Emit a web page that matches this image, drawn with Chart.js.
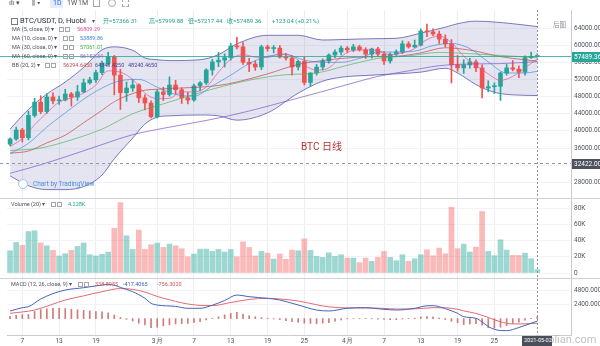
<!DOCTYPE html>
<html>
<head>
<meta charset="utf-8">
<title>BTC/USDT D Huobi</title>
<script src="https://cdn.jsdelivr.net/npm/chart.js@4.4.1/dist/chart.umd.min.js"></script>
<style>
  html, body { margin: 0; padding: 0; background: #fff; }
  #wrap { position: relative; width: 600px; height: 346px; overflow: hidden; background: #fff;
          font-family: Roboto, "Noto Sans CJK SC", sans-serif; }
  #wrap canvas { position: absolute; left: 0; }
  .t { position: absolute; white-space: nowrap; line-height: 1; color: #50535e; }
  .ic { display: inline-block; width: 3px; height: 3px; border: 1px solid #a3a6af; margin-right: 1px; }
  .sep { position: absolute; left: 0; width: 600px; height: 1px; background: #cfd1d7; }
</style>
</head>
<body>
<div id="wrap">
  <canvas id="main" width="600" height="188" style="top:10px"></canvas>
  <canvas id="vol" width="600" height="79" style="top:199px"></canvas>
  <canvas id="macd" width="600" height="67" style="top:279px"></canvas>
  <div class="sep" style="top:198px"></div>
  <div class="sep" style="top:278px"></div>

  <!-- toolbar (cut at the top edge) -->
  <div class="t" style="left:9px;top:0px;font-size:7px">ılı ▾</div>
  <div class="t" style="left:32px;top:0px;font-size:7px">⫼ ▾</div>
  <div class="t" style="left:50px;top:-1px;width:13px;height:9px;background:#e3edfb"></div>
  <div class="t" style="left:53px;top:0px;font-size:7px;color:#2962ff">1D</div>
  <div class="t" style="left:67px;top:0px;font-size:7px">1W</div>
  <div class="t" style="left:78px;top:0px;font-size:7px">1M</div>
  <div class="t" style="left:93px;top:-1px;width:5px;height:6px;border:1px solid #a3a6af"></div>
  <div class="t" style="left:108px;top:-1px;width:6px;height:6px;border:1px solid #a3a6af;border-radius:4px"></div>
  <div class="t" style="left:122px;top:-1px;width:5px;height:6px;border:1px dashed #a3a6af"></div>

  <!-- main pane legend -->
  <div class="t" style="left:11px;top:18px;width:5px;height:5px;border:1px solid #787b86"></div>
  <div class="t" style="left:20px;top:17px;font-size:7.5px;color:#2a2e39">BTC/USDT, D, Huobi</div>
  <div class="t" style="left:92px;top:18px;font-size:6px">▾</div>
  <div class="t" style="left:103px;top:18px;font-size:6px;color:#22a08f">开=57366.31</div>
  <div class="t" style="left:149px;top:18px;font-size:6px;color:#22a08f">高=57999.88</div>
  <div class="t" style="left:188px;top:18px;font-size:6px;color:#22a08f">低=57217.44</div>
  <div class="t" style="left:227px;top:18px;font-size:6px;color:#22a08f">收=57489.36</div>
  <div class="t" style="left:272px;top:18px;font-size:6px;color:#22a08f">+123.04 (+0.21%)</div>

  <div class="t" style="left:12px;top:27px;font-size:5.5px">MA (5, close, 0) ▾</div>
  <div class="t" style="left:59px;top:27px;font-size:5.5px"><span class="ic"></span><span class="ic"></span></div>
  <div class="t" style="left:77px;top:27px;font-size:5.5px;color:#e0569c">56809.29</div>

  <div class="t" style="left:12px;top:36px;font-size:5.5px">MA (10, close, 0) ▾</div>
  <div class="t" style="left:63px;top:36px;font-size:5.5px"><span class="ic"></span><span class="ic"></span></div>
  <div class="t" style="left:80px;top:36px;font-size:5.5px;color:#3d85d8">53889.86</div>

  <div class="t" style="left:12px;top:45px;font-size:5.5px">MA (30, close, 0) ▾</div>
  <div class="t" style="left:63px;top:45px;font-size:5.5px"><span class="ic"></span><span class="ic"></span></div>
  <div class="t" style="left:80px;top:45px;font-size:5.5px;color:#43b049">57061.01</div>

  <div class="t" style="left:12px;top:54px;font-size:5.5px">MA (60, close, 0) ▾</div>
  <div class="t" style="left:63px;top:54px;font-size:5.5px"><span class="ic"></span><span class="ic"></span></div>
  <div class="t" style="left:80px;top:54px;font-size:5.5px;color:#8a6bbd">56152.34</div>

  <div class="t" style="left:12px;top:63px;font-size:5.5px">BB (20, 2) ▾</div>
  <div class="t" style="left:45px;top:63px;font-size:5.5px"><span class="ic"></span><span class="ic"></span></div>
  <div class="t" style="left:63px;top:63px;font-size:5.5px;color:#c0504d">56294.6450</div>
  <div class="t" style="left:95px;top:63px;font-size:5.5px;color:#3c3f96">64348.4250</div>
  <div class="t" style="left:128px;top:63px;font-size:5.5px;color:#3c3f96">48240.4650</div>

  <div class="t" style="left:553px;top:22px;font-size:6.5px;color:#8a8d96">后图</div>
  <div class="t" style="left:301px;top:142px;font-size:10px;color:#b8312f">BTC 日线</div>
  <div class="t" style="left:18px;top:179px;width:8px;height:8px;border:1px solid #9cc3ea;border-radius:5px;background:#fff"></div>
  <div class="t" style="left:33px;top:181px;font-size:6.5px;color:#4a90d9">Chart by TradingView</div>

  <!-- volume legend -->
  <div class="t" style="left:11px;top:202px;font-size:5.5px">Volume (20) ▾</div>
  <div class="t" style="left:51px;top:202px;font-size:5.5px"><span class="ic"></span><span class="ic"></span></div>
  <div class="t" style="left:68px;top:202px;font-size:5.5px;color:#22a08f">4.228K</div>

  <!-- macd legend -->
  <div class="t" style="left:11px;top:282px;font-size:5.5px">MACD (12, 26, close, 9) ▾</div>
  <div class="t" style="left:78px;top:282px;font-size:5.5px"><span class="ic"></span><span class="ic"></span></div>
  <div class="t" style="left:95px;top:282px;font-size:5.5px;color:#d9534f">338.8955</div>
  <div class="t" style="left:123px;top:282px;font-size:5.5px;color:#3c5cb0">-417.4065</div>
  <div class="t" style="left:157px;top:282px;font-size:5.5px;color:#d9534f">-756.3020</div>

  <div class="t" style="left:536px;top:334px;font-size:11px;color:rgba(150,150,150,0.6)">baolian.com</div>
  <div class="t" style="left:522px;top:336px;width:30px;height:10px;background:#4a4e5a"></div>
  <div class="t" style="left:524px;top:338px;font-size:5.5px;color:#fff">2021-05-02</div>
</div>

<script>
/* ===== DATA ===== */
// daily candles, 2021-02-05 .. 2021-05-02 (prices in thousands USDT)
const openK = [36.9,38.1,40.2,38.4,43.6,46.7,44.5,47.9,47.0,47.2,
  48.6,47.9,49.1,51.2,51.9,53.6,55.8,57.3,53.0,48.9,
  50.0,50.7,47.7,46.5,43.3,49.1,48.5,50.7,49.6,47.7,
  47.2,50.5,51.2,54.2,56.1,56.5,57.1,59.8,59.6,56.0,
  55.6,54.9,59.6,59.2,59.3,57.2,57.0,54.9,56.2,51.3,
  53.5,54.9,56.3,57.7,58.4,59.3,58.9,59.6,58.9,57.9,
  59.1,57.9,56.3,57.9,58.4,60.3,59.6,60.0,63.3,63.1,
  62.6,61.4,60.3,55.4,54.7,55.4,56.1,54.7,50.0,50.3,
  50.4,53.5,54.7,54.4,53.7,57.1,57.36631];
const highK = [38.4,40.9,40.6,44.6,47.6,48.2,48.7,48.9,48.1,49.7,
  49.0,50.6,52.1,52.5,54.2,56.3,58.3,57.6,54.4,51.4,
  52.0,51.0,48.4,47.0,49.6,50.2,52.6,51.8,50.0,49.0,
  50.9,51.5,54.5,56.7,58.3,58.0,60.4,61.8,60.6,56.9,
  56.3,60.0,60.0,59.9,59.9,58.1,57.5,56.5,57.2,53.6,
  55.5,56.8,58.0,58.9,59.8,59.7,60.2,60.0,59.4,59.3,
  59.5,58.5,58.2,58.9,61.0,60.8,61.2,63.8,64.9,63.8,
  63.3,62.4,61.3,57.6,56.6,56.9,56.6,55.4,51.7,51.2,
  53.7,55.5,56.4,55.2,57.5,58.4,57.99988];
const lowK = [36.5,37.8,37.4,37.9,43.2,44.0,44.1,46.3,46.2,47.0,
  45.8,47.1,48.9,50.9,51.3,53.1,55.3,48.4,45.0,46.9,
  49.2,46.6,44.9,43.0,43.0,47.1,48.1,48.6,46.4,46.3,
  46.9,49.3,50.8,53.0,55.0,54.9,56.5,59.1,55.5,53.8,
  54.1,54.3,58.6,58.2,57.0,56.5,53.0,54.2,50.7,50.4,
  53.0,54.2,55.8,57.1,57.7,58.3,58.5,58.6,56.9,57.0,
  57.4,55.5,55.8,57.6,58.0,59.3,59.4,59.8,62.0,62.2,
  60.4,59.6,51.2,53.9,53.4,54.6,53.8,47.7,49.1,48.7,
  47.1,53.0,54.0,52.4,53.0,56.9,57.21744];
const closeK = [38.1,40.2,38.4,43.6,46.7,44.5,47.9,47.0,47.2,48.6,
  47.9,49.1,51.2,51.9,53.6,55.8,57.3,53.0,48.9,50.0,
  50.7,47.7,46.5,43.3,49.1,48.5,50.7,49.6,47.7,47.2,
  50.5,51.2,54.2,56.1,56.5,57.1,59.8,59.6,56.0,55.6,
  54.9,59.6,59.2,59.3,57.2,57.0,54.9,56.2,51.3,53.5,
  54.9,56.3,57.7,58.4,59.3,58.9,59.6,58.9,57.9,59.1,
  57.9,56.3,57.9,58.4,60.3,59.6,60.0,63.3,63.1,62.6,
  61.4,60.3,55.4,54.7,55.4,56.1,54.7,50.0,50.3,50.4,
  53.5,54.7,54.4,53.7,57.1,57.36631,57.48936];
// volume in K
const volumeK = [27.4,37.6,34,51,52,37,33.5,27.8,21,23.7,
  28,32.7,37,22.5,21,23,25.8,55,86.7,45.8,
  29,52.8,29,34.8,36.8,31.5,35.6,33.5,29.9,20,
  23.3,29.4,29.4,26.6,29,25.8,29,20,38.4,31.5,
  21,26.6,24.5,17.2,23.3,16.8,28.2,27.4,42.1,27.8,
  20.4,19.2,24.9,20.4,22.5,18.4,18.4,12.7,18.4,14.3,
  19.2,26.6,19.2,15.1,22.5,14.3,17.6,22.5,28.6,21.3,
  30.7,23.7,81,29.9,35.6,25.8,31.9,75.7,26.6,21.3,
  40.9,28.2,21.7,21.7,24.5,17.6,4.228];

// indicator lines: [day index, value]
const ma5 = [[0,36.3],[2,38.2],[4,41.4],[6,44.2],[8,46.7],[10,47.7],[12,48.8],[14,50.7],[16,54.0],[18,53.7],
  [20,52.0],[22,48.8],[24,47.5],[26,47.6],[28,49.1],[30,49.1],[32,50.2],[34,53.7],[36,56.7],[38,57.8],
  [40,57.2],[42,57.1],[44,58.0],[46,57.5],[48,55.3],[50,54.2],[52,54.7],[54,57.3],[56,58.8],[58,58.9],
  [60,58.7],[62,57.8],[64,58.2],[66,59.2],[68,61.3],[70,62.1],[72,60.6],[74,57.4],[76,55.3],[78,53.3],
  [80,51.8],[82,52.7],[84,54.7],[86,56.8]];
const ma10 = [[0,34.7],[3,37.1],[6,40.9],[9,44.2],[12,47.4],[15,50.0],[18,51.7],[21,52.0],[24,50.2],[27,48.5],
  [30,48.1],[33,50.5],[36,53.0],[39,55.7],[42,57.4],[45,57.8],[48,56.5],[51,56.0],[54,56.0],[57,56.9],
  [60,58.4],[63,58.4],[66,58.6],[69,59.9],[72,60.4],[75,59.2],[78,56.1],[81,53.5],[84,53.5],[86,53.89]];
const ma30 = [[0,35.4],[5,36.0],[10,37.9],[15,40.4],[20,44.0],[25,46.3],[30,48.5],[35,50.5],[40,52.1],
  [45,53.1],[50,53.5],[55,55.3],[60,56.9],[65,57.5],[70,58.3],[75,58.0],[80,57.6],[86,57.06]];
const ma60 = [[0,30.1],[5,32.1],[10,34.4],[15,36.8],[20,39.1],[25,40.6],[30,41.9],[35,43.3],[40,45.0],
  [45,46.9],[50,48.8],[55,50.8],[60,52.7],[65,54.0],[70,55.2],[75,55.6],[80,55.7],[86,56.15]];

const bbIdx   = [0,3,6,9,12,15,17,20,22,24,26,31,34,37,42,47,51,54,59,63,67,71,73,76,79,82,86];
const bbUpper = [40.4,45.0,48.6,51.4,54.8,58.9,59.6,58.8,57.0,56.6,56.4,56.6,57.8,60.3,62.3,62.3,61.2,61.3,61.5,61.6,62.8,64.2,65.0,65.6,65.4,65.0,64.35];
const bbLower = [29.5,27.2,26.3,26.3,27.0,29.7,33.5,38.3,41.6,43.2,43.5,43.7,43.5,42.5,44.2,48.8,51.6,52.5,53.0,53.3,53.7,54.6,53.5,50.8,49.0,48.4,48.24];
const bbBasis = [34.8,35.3,37.2,39.0,41.9,44.8,46.8,48.7,49.5,49.7,49.9,50.2,50.6,51.4,53.3,55.5,56.4,56.9,57.3,57.4,58.2,59.4,59.2,58.6,57.6,56.9,56.29];

const macdLine = [[0,1280],[2,1830],[3,2000],[5,3290],[7,4200],[9,4800],[12,5190],[15,5640],[16,5760],[17,5600],
  [18,5250],[19,4900],[20,4520],[22,3410],[23,2570],[24,2280],[27,2050],[29,1730],[31,1730],[33,2250],
  [35,3050],[37,3960],[39,3680],[42,3410],[44,3120],[47,2280],[50,1440],[52,1280],[55,1730],[58,1830],
  [61,1560],[63,1440],[66,1730],[68,2150],[69,2170],[70,2000],[72,1300],[73,890],[74,320],[76,50],
  [77,-560],[78,-1330],[79,-1800],[80,-2000],[81,-2030],[83,-1500],[84,-1150],[85,-780],[86,-417.4065]];
const signalLine = [[0,890],[4,1440],[9,3120],[12,3820],[15,4520],[18,5050],[20,4920],[22,4460],[24,3720],
  [26,3160],[28,2650],[31,2220],[33,2190],[36,2700],[39,3220],[42,3400],[44,3300],[47,2950],[50,2330],
  [52,1980],[55,1800],[58,1790],[61,1710],[63,1610],[66,1630],[69,1830],[71,1820],[73,1560],[74,1300],
  [76,870],[77,550],[78,200],[80,-540],[82,-900],[84,-880],[85,-840],[86,-756.302]];
const macdHist = [390,550,680,700,1210,1500,1630,1740,1710,1680,
  1580,1480,1370,1290,1200,1120,950,600,200,-120,
  -400,-780,-1050,-1510,-1440,-1220,-1040,-890,-830,-800,
  -660,-510,-230,56,300,625,860,1056,757,470,
  311,170,63,-62,-170,-350,-510,-630,-770,-820,
  -860,-760,-665,-420,-210,-45,-5,20,40,-40,
  -100,-155,-170,-185,-70,25,90,290,350,300,
  100,-160,-450,-690,-1000,-900,-840,-1110,-1530,-1620,
  -1460,-1190,-810,-600,-270,60,338.8955];

// axes
const priceTicks = [28, 32, 36, 40, 44, 48, 52, 56, 60, 64];
const volTicks = [0, 20, 40, 60, 80];
const macdTicks = [2400, 4800];
const tickIdx  = [2, 8, 14, 24, 30, 36, 42, 48, 55, 61, 67, 73, 79];
const tickText = ['7', '13', '19', '3月', '7', '13', '19', '25', '4月', '7', '13', '19', '25'];
const crossPrice = 32.422;

/* ===== SETUP ===== */
const SLOTS = 92;            // 87 days + right margin
const AXIS_W = 29;
const UP = '#26a69a', DOWN = '#ef5350';
const CROSS_IDX = closeK.length - 1;

const days = [];
for (let i = 0; i < SLOTS; i++) {
  const d = new Date(Date.UTC(2021, 1, 5 + i));
  days.push(d.toISOString().slice(0, 10));
}
const isUp = closeK.map((c, i) => c >= openK[i]);

// place read points on the day slots, leave the rest empty (spanGaps joins them)
function sparse(idx, vals) {
  const a = new Array(SLOTS).fill(null);
  idx.forEach((i, k) => { a[i] = vals[k]; });
  return a;
}
const fromPairs = (pairs) => sparse(pairs.map((p) => p[0]), pairs.map((p) => p[1]));

Chart.defaults.font.family = 'Roboto';
Chart.defaults.animation = false;
Chart.defaults.plugins.legend.display = false;
Chart.defaults.plugins.tooltip.enabled = false;

const gridX = (c) => tickIdx.includes(c.index) ? '#eceef2' : 'rgba(0,0,0,0)';
const noPad = (s) => { s.paddingTop = 0; s.paddingBottom = 0; s.paddingLeft = 0; s.paddingRight = 0; };

function xAxis(showLabels) {
  return {
    type: 'category', labels: days, offset: true,
    ticks: {
      display: showLabels, autoSkip: false, maxRotation: 0, minRotation: 0,
      font: { size: 6.5 }, color: '#50535e', padding: 2,
      callback: (v, i) => { const k = tickIdx.indexOf(i); return k >= 0 ? tickText[k] : ''; },
    },
    grid: { offset: false, drawTicks: false, color: gridX },
    border: { display: showLabels, color: '#c9cbd1' },
    afterFit: (s) => { s.height = showLabels ? 11 : 0; noPad(s); },
  };
}

function yAxis(min, max, ticks, fmt) {
  return {
    position: 'right', min, max,
    afterFit: (s) => { s.width = AXIS_W; noPad(s); },
    afterBuildTicks: (s) => { s.ticks = ticks.map((v) => ({ value: v })); },
    ticks: { font: { size: 6.5 }, color: '#50535e', padding: 3, callback: fmt },
    grid: { color: '#f2f3f6', drawTicks: false },
    border: { display: true, color: '#c9cbd1' },
  };
}

const crosshair = {
  id: 'crosshair',
  afterDatasetsDraw(chart) {
    const { ctx, chartArea: a, scales } = chart;
    const x = Math.round(scales.x.getPixelForValue(CROSS_IDX)) + 0.5;
    ctx.save();
    ctx.strokeStyle = '#8f929b';
    ctx.lineWidth = 1;
    ctx.setLineDash([2, 2]);
    ctx.beginPath(); ctx.moveTo(x, a.top); ctx.lineTo(x, a.bottom); ctx.stroke();
    ctx.restore();
  },
};

function tag(ctx, x0, y, text, bg) {
  ctx.fillStyle = bg;
  ctx.fillRect(x0 + 1, Math.round(y) - 5, 600 - x0, 10);
  ctx.fillStyle = '#fff';
  ctx.font = '6.5px Roboto';
  ctx.textBaseline = 'middle';
  ctx.textAlign = 'left';
  ctx.fillText(text, x0 + 3, y + 0.5);
}

const priceMarks = {
  id: 'priceMarks',
  afterDraw(chart) {
    const { ctx, chartArea: a, scales: { y } } = chart;
    const last = closeK[closeK.length - 1];
    const yp = Math.round(y.getPixelForValue(last)) + 0.5;
    const yc = Math.round(y.getPixelForValue(crossPrice)) + 0.5;
    ctx.save();
    ctx.lineWidth = 1;
    ctx.strokeStyle = 'rgba(38,166,154,0.8)';
    ctx.beginPath(); ctx.moveTo(0, yp); ctx.lineTo(a.right, yp); ctx.stroke();
    ctx.setLineDash([3, 3]);
    ctx.strokeStyle = '#9598a1';
    ctx.beginPath(); ctx.moveTo(0, yc); ctx.lineTo(a.right, yc); ctx.stroke();
    ctx.setLineDash([]);
    tag(ctx, a.right, yp, (last * 1000).toFixed(2), '#26a69a');
    tag(ctx, a.right, yc, (crossPrice * 1000).toFixed(2), '#4c525e');
    ctx.restore();
  },
};

const lineDs = (data, color, order, extra) => Object.assign({
  type: 'line', data, borderColor: color, borderWidth: 1, spanGaps: true,
  pointRadius: 0, cubicInterpolationMode: 'monotone', fill: false, order,
}, extra || {});

const baseOpts = (scales) => ({
  responsive: false, devicePixelRatio: 1, events: [],
  layout: { padding: { left: 7, right: 0, top: 0, bottom: 0 } },
  scales,
});

/* ===== MAIN PANE ===== */
new Chart(document.getElementById('main'), {
  type: 'bar',
  data: {
    labels: days,
    datasets: [
      lineDs(sparse(bbIdx, bbUpper), 'rgba(0,0,128,0.5)', 10, { fill: '+1', backgroundColor: 'rgba(0,0,128,0.1)' }),
      lineDs(sparse(bbIdx, bbLower), 'rgba(0,0,128,0.5)', 9),
      {
        data: lowK.map((l, i) => [l, highK[i]]),
        backgroundColor: isUp.map((u) => (u ? UP : DOWN)),
        barThickness: 1, grouped: false, order: 6,
      },
      {
        data: openK.map((o, i) => [o, closeK[i]]),
        backgroundColor: isUp.map((u) => (u ? UP : DOWN)),
        barThickness: 4, minBarLength: 1, grouped: false, order: 5,
      },
      lineDs(sparse(bbIdx, bbBasis), 'rgba(192,70,70,0.7)', 4),
      lineDs(fromPairs(ma60), 'rgba(126,87,194,0.7)', 3),
      lineDs(fromPairs(ma30), 'rgba(76,175,80,0.65)', 3),
      lineDs(fromPairs(ma10), 'rgba(61,133,216,0.65)', 2),
      lineDs(fromPairs(ma5), 'rgba(224,86,156,0.7)', 1),
    ],
  },
  options: baseOpts({
    x: xAxis(false),
    y: yAxis(24.339, 68.2, priceTicks, (v) => (v * 1000).toFixed(2)),
  }),
  plugins: [crosshair, priceMarks],
});

/* ===== VOLUME PANE ===== */
new Chart(document.getElementById('vol'), {
  type: 'bar',
  data: {
    labels: days,
    datasets: [{
      data: volumeK,
      backgroundColor: isUp.map((u) => (u ? 'rgba(38,166,154,0.45)' : 'rgba(239,83,80,0.4)')),
      barThickness: 5,
    }],
  },
  options: baseOpts({
    x: xAxis(false),
    y: yAxis(-6.15, 91.08, volTicks, (v) => (v === 0 ? '0' : v + 'K')),
  }),
  plugins: [crosshair],
});

/* ===== MACD PANE ===== */
new Chart(document.getElementById('macd'), {
  type: 'bar',
  data: {
    labels: days,
    datasets: [
      { data: macdHist, backgroundColor: 'rgba(200,100,100,0.85)', barThickness: 1, order: 3 },
      lineDs(fromPairs(signalLine), '#e06b74', 2),
      lineDs(fromPairs(macdLine), '#4563b8', 1),
    ],
  },
  options: baseOpts({
    x: xAxis(true),
    y: yAxis(-2755, 6653, macdTicks, (v) => v.toFixed(4)),
  }),
  plugins: [crosshair],
});
</script>
</body>
</html>
